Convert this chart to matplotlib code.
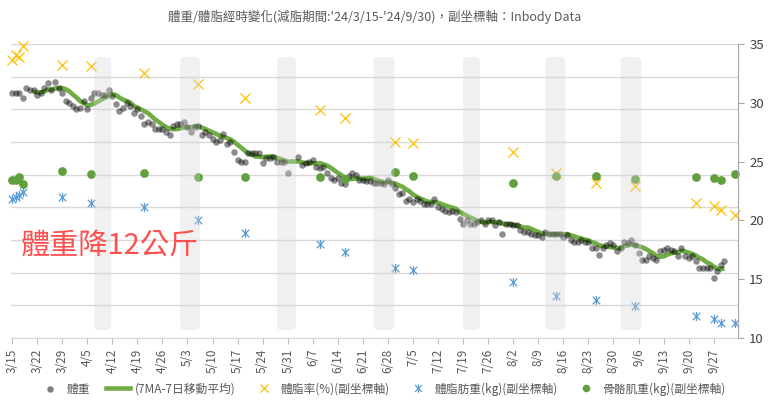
import numpy as np
import pandas as pd
import matplotlib
matplotlib.use('Agg')
import matplotlib.pyplot as plt
from matplotlib.patches import FancyBboxPatch
from matplotlib.path import Path
import matplotlib.dates as mdates

plt.rcParams['font.family'] = ['Noto Sans CJK TC', 'DejaVu Sans']

# daily weight (kg) from 2024-03-15, nan = no record
weight = [
    75.0, 75.0, 75.0, 74.7, 75.3, 75.2, 75.2, 74.9, 75.0, 75.3,
    75.6, 75.2, 75.7, 75.3, 75.0, 74.5, 74.4, 74.2, 74.0, 74.1,
    74.5, 74.0, 74.7, 75.0, 75.0, 74.9, 74.9, 75.2, 74.8, 74.3,
    73.9, 74.1, 74.4, 74.2, 73.8, 74.0, 73.6, 73.1, 73.2, 73.1,
    72.8, 72.8, 72.8, 72.6, 72.4, 73.0, 73.1, 73.1, 73.2, 72.9,
    72.6, 72.9, 73.0, 72.4, 72.6, 72.4, 72.2, 72.0, 72.1, 72.5,
    71.9, 72.0, 71.4, 70.9, 70.8, 70.8, 71.3, 71.3, 71.3, 71.3,
    70.7, 71.0, 71.0, 71.1, 70.8, 70.8, 70.8, 70.1, np.nan, np.nan,
    71.1, 70.6, 70.7, 70.8, 70.9, 70.5, 70.4, 70.5, 70.1, 69.8,
    69.7, 69.8, 69.5, 69.4, 69.9, 70.1, 70.0, 69.7, 69.7, 69.6,
    69.6, 69.5, 69.5, 69.5, 69.4, 69.7, 69.4, 69.2, 68.8, 68.9,
    68.4, 68.5, 68.3, 68.5, 68.4, 68.2, 68.2, 68.2, 68.5, 68.0,
    67.9, 67.8, 67.7, 67.8, 67.7, 67.3, 67.0, 67.2, 67.0, 67.0,
    67.1, 67.2, 67.0, 67.2, 67.2, 66.9, 67.1, 66.4, 67.0, 67.0,
    66.9, 66.9, 66.6, 66.5, 66.5, 66.4, 66.3, 66.3, 66.2, 66.5,
    66.4, 66.4, 66.4, 66.4, 66.2, 66.3, 66.0, 65.9, 65.9, 66.0,
    65.9, 65.9, 65.5, 65.5, 65.1, 65.5, 65.7, 65.8, 65.7, 65.3,
    65.5, 65.9, 65.8, 66.0, 65.7, 65.2, 64.8, 64.8, 65.0, 64.9,
    64.8, 65.3, 65.4, 65.5, 65.4, 65.3, 65.0, 65.5, 65.0, 64.9,
    65.0, 64.7, 64.3, 64.3, 64.3, 64.3, 63.7, 64.1, 64.5, 64.7,
]

# Inbody measurements (secondary axis)
inbody_dates = ['2024-03-15', '2024-03-16', '2024-03-17', '2024-03-18', '2024-03-29',
                '2024-04-06', '2024-04-21', '2024-05-06', '2024-05-19', '2024-06-09',
                '2024-06-16', '2024-06-30', '2024-07-05', '2024-08-02', '2024-08-14',
                '2024-08-25', '2024-09-05', '2024-09-22', '2024-09-27', '2024-09-29',
                '2024-10-03']
fat_pct = [33.6, 34.1, 33.9, 34.8, 33.2, 33.1, 32.5, 31.6, 30.4, 29.4, 28.7,
           26.7, 26.6, 25.8, 24.0, 23.2, 22.9, 21.5, 21.2, 20.9, 20.5]
fat_kg = [21.8, 22.0, 22.2, 22.4, 22.0, 21.5, 21.1, 20.0, 18.9, 18.0, 17.3,
          16.0, 15.8, 14.8, 13.6, 13.2, 12.7, 11.9, 11.6, 11.3, 11.25]
muscle_kg = [23.4, 23.4, 23.7, 23.1, 24.2, 23.95, 24.0, 23.7, 23.7, 23.7, 23.5,
             24.1, 23.8, 23.2, 23.8, 23.8, 23.5, 23.7, 23.6, 23.4, 23.95]

# grey highlighted periods (start date, length in days)
band_start = ['2024-04-07', '2024-05-01', '2024-05-28', '2024-06-24',
              '2024-07-19', '2024-08-11', '2024-09-01']
band_days = [4.7, 5.5, 5.3, 5.8, 4.7, 5.5, 5.8]

title = "體重/體脂經時變化(減脂期間:'24/3/15-'24/9/30)，副坐標軸：Inbody Data"

dates = pd.date_range('2024-03-15', periods=len(weight), freq='D')
w = pd.Series(weight, index=dates).dropna()
ma7 = w.rolling(7).mean()
ib = pd.to_datetime(inbody_dates)

fig = plt.figure(figsize=(7.68, 4.03), dpi=100)
ax = fig.add_axes([0.0143, 0.161, 0.9467, 0.730])
ax2 = ax.twinx()

ax.plot(ma7.index, ma7.values, color='#70AD47', lw=3.3, zorder=2, solid_capstyle='butt')
ax.scatter(w.index, w.values, s=22, color='black', alpha=0.45, lw=0, zorder=3, clip_on=False)

star = Path([(-1, -1), (1, 1), (-1, 1), (1, -1), (0, -1.2), (0, 1.2)],
            [Path.MOVETO, Path.LINETO, Path.MOVETO, Path.LINETO, Path.MOVETO, Path.LINETO])
ax2.plot(ib, fat_pct, ls='none', marker='x', ms=6.5, mew=0.9, color='#FFC000', clip_on=False)
ax2.plot(ib, fat_kg, ls='none', marker=star, ms=6.5, mew=0.9, color='#5B9BD5', clip_on=False)
ax2.plot(ib, muscle_kg, ls='none', marker='o', ms=6.3, mew=0, color='#62A03F', clip_on=False)

start = pd.Timestamp('2024-03-15')
ax.set_xlim(start - pd.Timedelta(hours=7), start + pd.Timedelta(days=202.8))
ax.set_ylim(60, 78)
ax.set_yticks(np.arange(60, 79, 2))
ax2.set_ylim(10, 35)
ax2.set_yticks(np.arange(10, 36, 5))

# highlighted periods, drawn over the data like the original
for s, d in zip(band_start, band_days):
    x0 = mdates.date2num(pd.Timestamp(s))
    p = FancyBboxPatch((x0, 60.5), d, 16.7, boxstyle='round,pad=0,rounding_size=1.3',
                       mutation_aspect=0.219, transform=ax.transData,
                       fc='#D4D4D4', ec='none', alpha=0.35, zorder=5)
    ax2.add_patch(p)

ticks = pd.date_range('2024-03-15', '2024-09-27', freq='7D')
ax.set_xticks(ticks)
ax.set_xticklabels([f'{t.month}/{t.day}' for t in ticks], rotation=90,
                   fontsize=8.5, color='#595959')
ax.tick_params(axis='x', length=4, color='#BFBFBF')
ax.tick_params(axis='y', left=False, labelleft=False)
ax.grid(axis='y', color='#D9D9D9', lw=1)
ax.set_axisbelow(True)
for sp in ['top', 'left', 'right']:
    ax.spines[sp].set_visible(False)
ax.spines['bottom'].set_color('#D9D9D9')
for sp in ['top', 'left', 'bottom']:
    ax2.spines[sp].set_visible(False)
ax2.spines['right'].set_color('#A6A6A6')
ax2.tick_params(axis='y', length=4, color='#A6A6A6', labelsize=9.5, labelcolor='#404040', pad=4)

ax2.text(0.013, 0.316, '體重降12公斤', transform=ax2.transAxes, fontsize=21,
         color='#FF5050', va='center', ha='left', zorder=10)

fig.text(0.488, 0.957, title, ha='center', va='center', fontsize=9, color='#595959')

h_w = ax.scatter([], [], s=22, color='black', alpha=0.5, lw=0)
h_ma, = ax.plot([], [], color='#70AD47', lw=3.3)
h_fp, = ax2.plot([], [], ls='none', marker='x', ms=6, mew=0.9, color='#FFC000')
h_fk, = ax2.plot([], [], ls='none', marker=star, ms=6, mew=0.9, color='#5B9BD5')
h_mu, = ax2.plot([], [], ls='none', marker='o', ms=5.5, mew=0, color='#62A03F')
fig.legend([h_w, h_ma, h_fp, h_fk, h_mu],
           ['體重', '(7MA-7日移動平均)', '體脂率(%)(副坐標軸)', '體脂肪重(kg)(副坐標軸)', '骨骼肌重(kg)(副坐標軸)'],
           loc='center', bbox_to_anchor=(0.497, 0.035), ncol=5, frameon=False,
           fontsize=8.5, labelcolor='#595959', handlelength=2.0, columnspacing=1.4,
           handletextpad=0.4)

fig.savefig('out.png', dpi=100)
